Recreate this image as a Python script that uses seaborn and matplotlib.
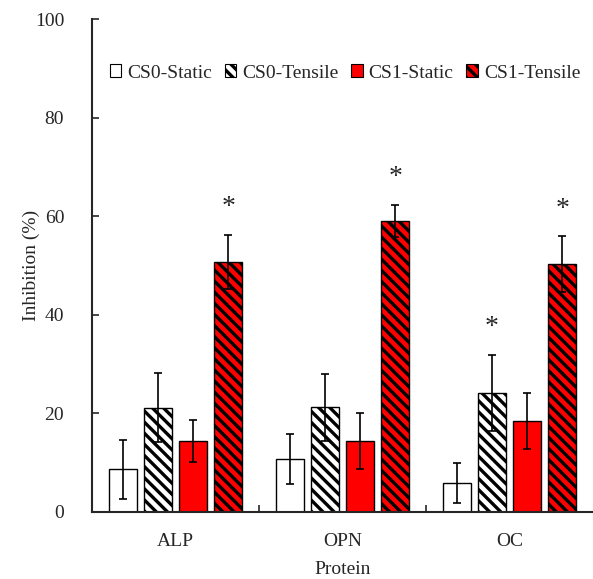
import pandas as pd
import numpy as np
import seaborn as sns
import matplotlib.pyplot as plt

proteins = ["ALP", "OPN", "OC"]
groups = ["CS0-Static", "CS0-Tensile", "CS1-Static", "CS1-Tensile"]

cs0_static = [8.7, 10.8, 5.9]
cs0_tensile = [21.1, 21.2, 24.1]
cs1_static = [14.4, 14.4, 18.4]
cs1_tensile = [50.7, 59.0, 50.3]

cs0_static_err = [6.0, 5.1, 4.1]
cs0_tensile_err = [7.0, 6.8, 7.7]
cs1_static_err = [4.2, 5.7, 5.7]
cs1_tensile_err = [5.5, 3.3, 5.6]

# significance marks: (protein, group)
stars = [("ALP", "CS1-Tensile"), ("OPN", "CS1-Tensile"),
         ("OC", "CS0-Tensile"), ("OC", "CS1-Tensile")]

sns.set_style("ticks")
plt.rcParams['font.family'] = ['Liberation Serif', 'DejaVu Serif']
plt.rcParams['hatch.linewidth'] = 2.4

vals = [cs0_static, cs0_tensile, cs1_static, cs1_tensile]
errs = [cs0_static_err, cs0_tensile_err, cs1_static_err, cs1_tensile_err]
rows = []
for g, v, e in zip(groups, vals, errs):
    for p, vi, ei in zip(proteins, v, e):
        rows.append({"Protein": p, "Group": g, "Inhibition": vi, "err": ei})
df = pd.DataFrame(rows)

colors = {"CS0-Static": "white", "CS0-Tensile": "white",
          "CS1-Static": "#ff0000", "CS1-Tensile": "#ff0000"}
hatches = {"CS0-Static": "", "CS0-Tensile": "\\\\\\",
           "CS1-Static": "", "CS1-Tensile": "\\\\\\"}

fig = plt.figure(figsize=(5.93, 5.79), dpi=100)
ax = fig.add_axes([92 / 593, 1 - 512 / 579, 1 - 92 / 593, (512 - 19) / 579])

sns.barplot(data=df, x="Protein", y="Inhibition", hue="Group", order=proteins,
            hue_order=groups, palette=colors, saturation=1, errorbar=None,
            width=0.84, gap=0.22, edgecolor="black", linewidth=1.0, ax=ax)

for container, g in zip(ax.containers, groups):
    sub = df[df["Group"] == g].set_index("Protein").loc[proteins]
    xs = []
    for bar in container:
        bar.set_hatch(hatches[g])
        xs.append(bar.get_x() + bar.get_width() / 2)
    ax.errorbar(xs, sub["Inhibition"], yerr=sub["err"], fmt="none",
                ecolor="black", elinewidth=1.2, capsize=3, capthick=1.2, zorder=5)
    for x, p in zip(xs, proteins):
        if (p, g) in stars:
            top = sub.loc[p, "Inhibition"] + sub.loc[p, "err"]
            ax.text(x, top + 3.0, "*", ha="center", va="bottom", fontsize=20)

ax.set_ylim(0, 100)
ax.set_xlim(-0.5, 2.5)
ax.set_yticks([0, 20, 40, 60, 80, 100])
ax.tick_params(axis="y", direction="in", length=5, width=1.2, labelsize=14, pad=20)
ax.tick_params(axis="x", which="major", length=0, labelsize=14, pad=15)
ax.set_xticks([0.5, 1.5], minor=True)
ax.tick_params(axis="x", which="minor", direction="in", length=5, width=1.2)
for s in ["top", "right"]:
    ax.spines[s].set_visible(False)
for s in ["left", "bottom"]:
    ax.spines[s].set_linewidth(1.5)

ax.set_ylabel("Inhibition (%)", fontsize=14, labelpad=-4)
ax.set_xlabel("Protein", fontsize=14, labelpad=8)

leg = ax.legend(loc="center", bbox_to_anchor=(0.505, (512 - 73) / 493), ncol=4,
                frameon=False, fontsize=14, handlelength=0.6, handleheight=0.6,
                handletextpad=0.3, columnspacing=0.65)
for h, g in zip(leg.legend_handles, groups):
    h.set_hatch(hatches[g])
    h.set_linewidth(0.8)

fig.savefig("out.png", dpi=100)
